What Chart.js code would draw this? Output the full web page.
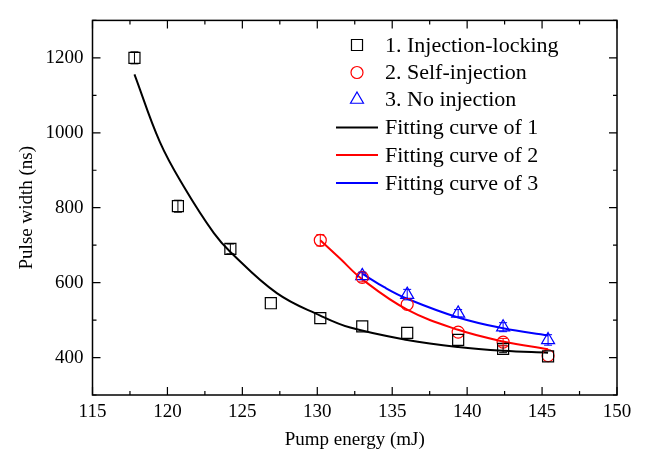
<!DOCTYPE html>
<html>
<head>
<meta charset="utf-8">
<script src="https://cdn.jsdelivr.net/npm/chart.js@4.4.0/dist/chart.umd.min.js"></script>
<style>
  html, body { margin: 0; padding: 0; background: #fff; }
  #wrap { width: 648px; height: 456px; }
</style>
</head>
<body>
<div id="wrap"><canvas id="pulseChart" width="648" height="456"></canvas></div>
<script>
// measured points (pump energy mJ, pulse width ns, error ns)
const energy1 = [117.8, 120.7, 124.2, 126.9, 130.2, 133.0, 136.0, 139.4, 142.4, 145.4];
const width1  = [1200, 804, 690, 545, 505, 483, 466, 447, 423, 403];
const err1    = [16, 16, 13, 0, 0, 0, 0, 0, 10, 0];

const energy2 = [130.2, 133.0, 136.0, 139.4, 142.4, 145.4];
const width2  = [713, 614, 542, 468, 441, 405];
const err2    = [15, 12, 0, 0, 10, 0];

const energy3 = [133.0, 136.0, 139.4, 142.4, 145.4];
const width3  = [618, 568, 518, 481, 447];
const err3    = [10, 14, 10, 12, 14];

// fitting curves
const fitX1 = [117.8, 119.5, 121.1, 123.1, 124.2, 127.3, 130.2, 132.2, 136.0, 139.4, 142.4, 145.4];
const fitY1 = [1156, 975, 856, 732, 682, 572, 512, 480, 447, 428, 418, 413];
const fitX2 = [130.2, 131.5, 133.0, 136.0, 139.4, 142.4, 145.4];
const fitY2 = [713, 665, 609, 528, 474, 443, 422];
const fitX3 = [133.0, 134.5, 136.0, 139.4, 142.4, 145.4];
const fitY3 = [624, 587, 557, 507, 478, 459];

// axis ticks
const xTicks = [115, 120, 125, 130, 135, 140, 145, 150];
const xMinor = [117.5, 122.5, 127.5, 132.5, 137.5, 142.5, 147.5];
const yTicks = [400, 600, 800, 1000, 1200];
const yMinor = [300, 500, 700, 900, 1100, 1300];

const legendNames = ['1. Injection-locking', '2. Self-injection', '3. No injection',
                     'Fitting curve of 1', 'Fitting curve of 2', 'Fitting curve of 3'];

const SERIF = '"Liberation Serif", "Times New Roman", serif';

const pts = (xs, ys) => xs.map((x, i) => ({ x: x, y: ys[i] }));

// box frame with inward ticks on all four sides
const framePlugin = {
    id: 'frame',
    afterDraw(chart) {
        const { ctx, chartArea: a, scales: { x, y } } = chart;
        ctx.save();
        ctx.strokeStyle = '#000';
        ctx.lineWidth = 1.5;
        ctx.strokeRect(a.left, a.top, a.right - a.left, a.bottom - a.top);
        ctx.lineWidth = 1.2;
        ctx.beginPath();
        const xt = (v, len) => {
            const p = x.getPixelForValue(v);
            ctx.moveTo(p, a.bottom); ctx.lineTo(p, a.bottom - len);
            ctx.moveTo(p, a.top); ctx.lineTo(p, a.top + len);
        };
        const yt = (v, len) => {
            const p = y.getPixelForValue(v);
            ctx.moveTo(a.left, p); ctx.lineTo(a.left + len, p);
            ctx.moveTo(a.right, p); ctx.lineTo(a.right - len, p);
        };
        xTicks.forEach(v => xt(v, 8));
        xMinor.forEach(v => xt(v, 4));
        yTicks.forEach(v => yt(v, 8));
        yMinor.forEach(v => yt(v, 4));
        ctx.stroke();
        ctx.restore();
    }
};

// vertical error bars with caps (skipped where the error is hidden by the marker)
const errorBarPlugin = {
    id: 'errorBars',
    afterDatasetsDraw(chart) {
        const { ctx, scales: { x, y } } = chart;
        ctx.save();
        chart.data.datasets.forEach(ds => {
            if (!ds.errors) return;
            ctx.strokeStyle = ds.borderColor;
            ctx.lineWidth = 1;
            ctx.beginPath();
            ds.data.forEach((p, i) => {
                if (!ds.errors[i]) return;
                const px = x.getPixelForValue(p.x);
                const top = y.getPixelForValue(p.y + ds.errors[i]);
                const bot = y.getPixelForValue(p.y - ds.errors[i]);
                ctx.moveTo(px, top); ctx.lineTo(px, bot);
                ctx.moveTo(px - 4, top); ctx.lineTo(px + 4, top);
                ctx.moveTo(px - 4, bot); ctx.lineTo(px + 4, bot);
            });
            ctx.stroke();
        });
        ctx.restore();
    }
};

// legend drawn inside the plot, like the original figure
const insideLegend = {
    id: 'insideLegend',
    afterDraw(chart) {
        const ctx = chart.ctx;
        const rows = [45, 72.5, 99.5, 127.5, 155, 183];
        ctx.save();
        ctx.font = '22px ' + SERIF;
        ctx.textBaseline = 'middle';
        ctx.textAlign = 'left';
        chart.data.datasets.forEach((ds, i) => {
            const yy = rows[i];
            ctx.strokeStyle = ds.borderColor;
            if (ds.showLine) {
                ctx.lineWidth = 2;
                ctx.beginPath();
                ctx.moveTo(336, yy); ctx.lineTo(378, yy);
                ctx.stroke();
            } else {
                ctx.fillStyle = 'rgba(0,0,0,0)';
                ctx.lineWidth = ds.borderWidth;
                Chart.helpers.drawPoint(ctx, {
                    pointStyle: ds.pointStyle, radius: ds.pointRadius,
                    borderWidth: ds.borderWidth, rotation: 0
                }, 357, yy);
            }
            ctx.fillStyle = '#000';
            ctx.fillText(ds.label, 385, yy + 1);
        });
        ctx.restore();
    }
};

const markerSet = (label, xs, ys, errs, color, style, r) => ({
    label: label,
    data: pts(xs, ys),
    errors: errs,
    showLine: false,
    pointStyle: style,
    pointRadius: r,
    pointBorderWidth: 1.2,
    borderWidth: 1.2,
    borderColor: color,
    pointBorderColor: color,
    backgroundColor: 'rgba(0,0,0,0)',
    pointBackgroundColor: 'rgba(0,0,0,0)'
});

const curveSet = (label, xs, ys, color) => ({
    label: label,
    data: pts(xs, ys),
    showLine: true,
    pointRadius: 0,
    borderColor: color,
    borderWidth: 2,
    tension: 0.4,
    fill: false
});

new Chart(document.getElementById('pulseChart').getContext('2d'), {
    type: 'scatter',
    data: {
        datasets: [
            markerSet(legendNames[0], energy1, width1, err1, '#000000', 'rect', 7.8),
            markerSet(legendNames[1], energy2, width2, err2, '#ff0000', 'circle', 6),
            markerSet(legendNames[2], energy3, width3, err3, '#0000ff', 'triangle', 7.5),
            curveSet(legendNames[3], fitX1, fitY1, '#000000'),
            curveSet(legendNames[4], fitX2, fitY2, '#ff0000'),
            curveSet(legendNames[5], fitX3, fitY3, '#0000ff')
        ]
    },
    options: {
        responsive: false,
        animation: false,
        devicePixelRatio: 1,
        layout: { padding: { top: 9, right: 31, left: 0, bottom: 0 } },
        plugins: {
            legend: { display: false },
            tooltip: { enabled: false }
        },
        scales: {
            x: {
                type: 'linear',
                min: 115,
                max: 150,
                afterBuildTicks: s => { s.ticks = xTicks.map(v => ({ value: v })); },
                afterFit: s => { s.height = 61; },
                grid: { display: false, drawTicks: false },
                border: { display: false },
                ticks: { color: '#000', padding: 6, font: { family: SERIF, size: 19 },
                         callback: v => String(v) },
                title: {
                    display: true,
                    text: 'Pump energy (mJ)',
                    color: '#000',
                    font: { family: SERIF, size: 19 },
                    padding: { top: 0, bottom: 5 }
                }
            },
            y: {
                type: 'linear',
                min: 300,
                max: 1300,
                afterBuildTicks: s => { s.ticks = yTicks.map(v => ({ value: v })); },
                afterFit: s => { s.width = 92.5; },
                grid: { display: false, drawTicks: false },
                border: { display: false },
                ticks: { color: '#000', padding: 9, font: { family: SERIF, size: 19 },
                         callback: v => String(v) },
                title: {
                    display: true,
                    text: 'Pulse width (ns)',
                    color: '#000',
                    font: { family: SERIF, size: 19 },
                    padding: { top: 16, bottom: 0 }
                }
            }
        }
    },
    plugins: [framePlugin, errorBarPlugin, insideLegend]
});
</script>
</body>
</html>
